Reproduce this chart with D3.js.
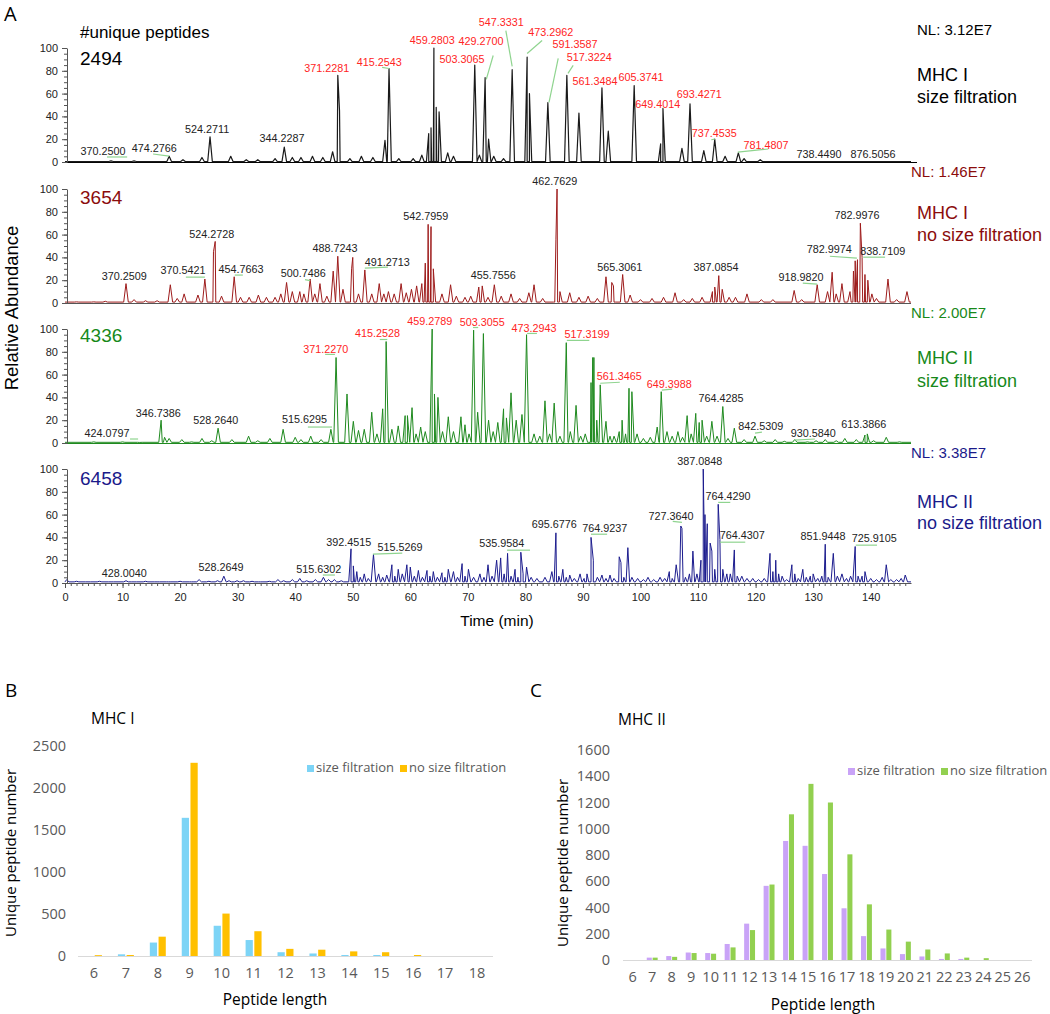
<!DOCTYPE html>
<html><head><meta charset="utf-8">
<script src="https://cdn.jsdelivr.net/npm/d3@7"></script>
<style>body{margin:0;background:#fff}svg{display:block}</style>
</head><body>
<svg id="c" width="1050" height="1014"></svg>
<script>
// ---------------- DATA ----------------
// Chromatogram peaks: [time (min), relative abundance]
const peaksMHCI_sf = [[8,1],[12,1],[18.1,5],[20.5,2],[23.8,4],[25.2,22],[28.8,5],[31.5,2],[33.5,2],[36.5,3],[38.1,13],[39.5,4],[41,4],[43,5],[44.8,4],[46.5,9],[47.4,76],[47.7,45],[49.5,3],[51.5,5],[53.5,4],[55.6,19],[56.3,82],[58,3],[60.5,3],[62,6],[63.2,25],[63.6,30],[64.1,100],[64.5,48],[65,44],[66.5,8],[67.5,5],[71.2,85],[72,6],[73,74],[73.6,20],[74.5,5],[76.2,3],[77.7,81],[80.3,92],[80.7,60],[83.9,52],[87.2,76],[89.3,43],[93.3,65],[94.4,27],[98.9,67],[103.5,16],[103.9,47],[107.2,12],[108.6,51],[111,10],[112.9,20],[114.7,5],[117,8],[118,3],[120.8,2]];
const peaksMHCI_nsf = [[2,1],[5,1],[7,1.5],[10.6,17],[12,3],[14,2],[16,2],[18.3,16],[19.5,4],[20.7,8],[23.1,7],[24.3,21],[25.8,45],[26.1,54],[27.2,6],[29.4,23],[30.5,5],[32,5],[33.6,7],[35,5],[36.5,5],[37.5,8],[38.5,18],[39.5,10],[40.8,10],[41.5,8],[42.6,21],[43.4,8],[44.3,17],[45.5,6],[46.6,28],[47.4,41],[48.3,12],[49.8,30],[50,40],[51,8],[52.1,29],[53.3,8],[54.6,17],[55.4,8],[56.2,10],[57.2,8],[58.4,17],[59.3,9],[60.2,12],[61.1,15],[62,17],[62.6,35],[63.1,69],[63.6,67],[64,30],[65.5,8],[67,16],[68,6],[69.5,5],[70.5,6],[71.9,14],[72.5,15],[73.5,5],[74.6,16],[75.8,6],[77.5,8],[79,4],[80.6,9],[81.5,16],[83,4],[85.3,56],[85.5,100],[86,10],[87.7,9],[89.3,5],[90.9,6],[92.5,4],[94,23],[95,18],[95.3,15],[96.9,25],[98.2,7],[100,3],[102,4],[104,5],[106,9],[107.5,3],[109,4],[110.7,5],[112.5,10],[112.9,14],[113.6,24],[114.2,12],[115.4,5],[116.5,5],[118.5,8],[121,3],[123,3],[126.7,11],[128,3],[130.7,16],[132.5,10],[133.3,27],[134,8],[135,17],[136.4,10],[137,28],[137.3,37],[137.7,38],[138.2,70],[138.5,40],[139,25],[139.5,20],[140.2,8],[141,4],[143,21],[144.5,3],[146.3,10]];
const peaksMHCII_sf = [[5,1],[10,1],[13,0.5],[16.7,20],[17.3,5],[18.1,4],[20.3,3],[22,1],[23.8,4],[25.5,2],[26.6,13],[29,3],[31.9,6],[33.5,2],[35.6,4],[37.9,12],[40,5],[41,3],[42.7,6],[44.5,3],[46.2,12],[47.1,75],[49,43],[50.1,19],[51,11],[52,12],[53.3,27],[54.2,8],[55.2,30],[55.8,89],[56.8,12],[57.9,15],[59.1,24],[59.5,24],[60.3,31],[61,8],[61.8,14],[62.6,10],[63.8,100],[64.2,43],[64.8,40],[65.6,10],[66.6,23],[67.5,10],[68.8,23],[69.5,16],[70.2,8],[71,99],[71.7,27],[72.7,96],[73.6,20],[74.4,10],[75.2,18],[76.2,30],[76.7,22],[77.5,44],[78.4,20],[79.4,25],[80.2,95],[81.5,8],[82.5,6],[83.4,37],[84.2,8],[85,35],[86,6],[87.1,88],[87.8,10],[88.8,33],[89.6,6],[90.4,8],[91.4,53],[91.7,75],[91.9,75],[92.4,20],[93,51],[94,19],[94.7,6],[95.4,6],[96.3,10],[96.8,20],[97.4,8],[98,48],[98.5,45],[99.4,8],[100.5,4],[101.7,5],[102.9,14],[103.6,45],[104.6,10],[105.5,6],[106.5,10],[107.3,5],[108.1,24],[108.8,8],[109.6,26],[110.2,18],[110.7,20],[111.5,6],[112.4,19],[113.3,6],[114.3,32],[115.2,4],[116.3,13],[118,3],[119.9,6],[121.5,2],[123.4,3],[125,1.5],[126.8,3],[129,1],[130.5,2],[132.1,3],[134,2],[135.5,4],[137.5,3],[139,7],[139.4,8],[140.5,2],[142.7,5],[145,1]];
const peaksMHCII_nsf = [[0.3,3],[2,1.5],[4,1],[6,1.5],[8,1],[10.6,2],[12,1],[14,1.5],[16,1],[18,1],[20,1.5],[22,1],[23.3,3],[25,1.5],[26.5,2],[27.6,6],[28.5,2],[29.9,2],[31,2],[32.5,1.5],[34,1],[35.5,1.5],[37,3],[38,2],[39.5,3],[40.8,4],[42,2],[43.5,3],[44.9,5],[45.8,3],[46.8,3],[48,2],[49.7,30],[50.1,15],[50.7,10],[51.3,5],[52,8],[52.7,4],[53.6,25],[54.5,8],[55.2,5],[55.9,7],[56.8,16],[57.3,6],[57.9,12],[58.6,8],[59.4,16],[60,14],[60.7,6],[61.4,11],[62.1,5],[62.9,11],[63.4,6],[64,10],[64.7,5],[65.5,9],[66,5],[66.6,12],[67.5,10],[68.2,5],[69,17],[69.5,6],[70.1,12],[71,5],[72.1,8],[72.8,5],[73.5,16],[74.2,6],[75,20],[75.7,22],[76.3,8],[76.9,26],[77.5,6],[78.2,12],[78.7,5],[79.2,27],[79.6,8],[80.2,14],[81,5],[82,4],[83.4,5],[84.6,10],[85.3,44],[85.8,6],[86.5,12],[87.1,5],[87.7,7],[88.5,4],[89.5,8],[90.2,4],[90.7,8],[91.4,40],[91.8,20],[92.5,5],[93.3,7],[94,4],[94.7,7],[95.4,4],[96.3,23],[96.6,18],[97.1,5],[97.8,31],[98.5,5],[99.5,4],[100.5,3],[101.3,5],[102.3,3],[103.4,5],[104.2,4],[105,10],[105.5,4],[106.2,16],[107,50],[107.2,48],[107.8,5],[108.5,8],[109.1,28],[109.8,8],[110.5,20],[110.9,100],[111.2,60],[111.6,52],[112.1,35],[112.4,28],[112.9,12],[113.5,69],[113.8,38],[114.3,12],[115,8],[115.6,8],[116.3,29],[116.8,6],[117.6,6],[118.5,4],[119.5,4],[120.5,3],[121.5,4],[122.5,26],[123,10],[123.5,20],[124,8],[124.6,6],[125.4,3],[126.3,16],[126.8,8],[127.4,4],[128.2,12],[128.8,5],[129.5,6],[130,8],[130.8,4],[131.5,6],[132.1,34],[132.6,5],[133.5,26],[134.2,6],[135,8],[135.8,4],[136.5,6],[137.3,32],[137.8,6],[138.5,6],[139,10],[140,4],[141,3],[142,5],[142.7,16],[143.5,3],[144.5,3],[145.3,4],[146,7]];

// Peak annotations: [m/z text, time, abundance, red?]
const labelsMHCI_sf = [["370.2500",6.6,6.1,0],["474.2766",15.5,8.7,0],["524.2711",24.7,25.3,0],["344.2287",37.7,17.5,0],["371.2281",45.5,78.6,1],["415.2543",54.6,83.8,1],["459.2803",63.8,103.9,1],["503.3065",69.0,86.5,1],["429.2700",72.3,102.2,1],["547.3331",75.8,119.7,1],["473.2962",84.4,110.9,1],["591.3587",88.6,99.6,1],["517.3224",91.1,88.2,1],["561.3484",92.1,67.2,1],["605.3741",100.1,70.7,1],["649.4014",103.0,47.2,1],["693.4271",110.2,55.9,1],["737.4535",112.8,21.8,1],["781.4807",121.8,11.4,1],["738.4490",131.0,3.5,0],["876.5056",140.4,3.5,0]];
const labelsMHCI_nsf = [["370.2509",10.3,20.1,0],["370.5421",20.5,25.3,0],["524.2728",25.5,56.8,0],["454.7663",30.6,26.2,0],["500.7486",41.4,22.7,0],["488.7243",46.9,44.5,0],["491.2713",56.0,32.3,0],["542.7959",62.7,72.5,0],["455.7556",74.4,21.0,0],["462.7629",85.1,103.9,0],["565.3061",96.4,27.9,0],["387.0854",113.1,27.9,0],["918.9820",127.9,19.2,0],["782.9974",132.8,43.7,0],["782.9976",137.6,73.4,0],["838.7109",142.1,41.9,0]];
const labelsMHCII_sf = [["424.0797",7.3,5.2,0],["346.7386",16.2,22.7,0],["528.2640",26.2,16.6,0],["515.6295",41.6,17.5,0],["371.2270",45.3,78.6,1],["415.2528",54.3,92.6,1],["459.2789",63.4,103.9,1],["503.3055",72.5,102.2,1],["473.2943",81.5,97.8,1],["517.3199",90.7,91.7,1],["561.3465",96.3,55.0,1],["649.3988",105.0,48.0,1],["764.4285",114.0,35.8,0],["842.5309",120.9,11.4,0],["930.5840",130.0,5.2,0],["613.3866",138.8,13.1,0]];
const labelsMHCII_nsf = [["428.0040",10.3,5.2,0],["528.2649",27.1,10.5,0],["515.6302",44.1,8.7,0],["392.4515",49.3,32.3,0],["515.5269",58.2,27.9,0],["535.9584",75.9,31.4,0],["695.6776",85.0,48.0,0],["764.9237",93.8,44.5,0],["727.3640",105.3,55.0,0],["387.0848",110.3,103.9,0],["764.4290",115.2,72.5,0],["764.4307",117.7,38.4,0],["851.9448",131.7,37.6,0],["725.9105",140.6,35.8,0]];

// Leader lines: [t1, v1, t2, v2]
const leadersMHCI_sf = [[7.3,4.4,10.8,4.4],[15.3,7.0,18.1,5.2],[55.1,83,56.3,82],[74.4,93.4,73.2,72.5],[76.6,115.3,77.7,83.8],[82.9,106.6,80.3,95.2],[85.7,90.8,84.1,52.4],[88.3,84.7,87.4,77.7],[112.3,19.5,112.9,20],[116.9,8.7,122.2,11.4]];
const leadersMHCI_nsf = [[21.0,22.7,24.3,22.7],[29.5,24.5,30.9,24.5],[41.7,20.5,42.6,19.7],[52.1,30.6,56.1,31.4],[128.2,17.5,130.7,16.6],[132.9,41,137.6,39.3],[138.7,40.2,142.5,40.2]];
const leadersMHCII_sf = [[11.3,3.5,12.7,3.5],[42.2,14.0,46.4,14.0],[45.2,77.7,46.9,77.7],[54.7,90.8,56.0,90.8],[70.9,101.3,71.8,101.3],[80.3,96.1,82.0,96.1],[87.2,90.0,91.1,90.0],[93.0,52.4,96.4,53.3],[103.7,46.3,105.5,47.2],[119.9,8.7,121.1,9.6],[126.8,2.6,130.3,3.5]];
const leadersMHCII_nsf = [[44.8,7.0,46.9,7.0],[53.5,25.3,58.6,26.2],[76.8,28.8,80.8,28.8],[91.4,42.8,94.2,42.8],[105.6,54,107.2,53.2],[113.5,70.7,115.6,70.7],[113.8,35.8,118.2,35.8],[137.4,33.2,141.1,33.2]];

const uniqueCounts = ["2494","3654","4336","6458"];
const nlValues = ["NL: 3.12E7","NL: 1.46E7","NL: 2.00E7","NL: 3.38E7"];
const sampleNames = [["MHC I","size filtration"],["MHC I","no size filtration"],["MHC II","size filtration"],["MHC II","no size filtration"]];
const abundanceTicks = [0,20,40,60,80,100];
const timeTicks = [0,10,20,30,40,50,60,70,80,90,100,110,120,130,140];

// Bar charts
const lengthsMHCI = [6,7,8,9,10,11,12,13,14,15,16,17,18];
const mhcI_sizeFilt = [0,20,160,1645,360,190,45,30,12,12,0,0,0];
const mhcI_noSizeFilt = [10,12,230,2300,505,295,85,75,55,45,12,0,0];
const mhcITicks = [0,500,1000,1500,2000,2500];

const lengthsMHCII = [6,7,8,9,10,11,12,13,14,15,16,17,18,19,20,21,22,23,24,25,26];
const mhcII_sizeFilt = [0,18,30,57,53,122,277,565,907,870,655,394,182,88,45,27,8,8,0,0,0];
const mhcII_noSizeFilt = [0,18,24,53,48,96,228,575,1110,1342,1200,805,424,232,140,80,50,18,14,0,0];
const mhcIITicks = [0,200,400,600,800,1000,1200,1400,1600];

// ---------------- DRAW ----------------
const svg = d3.select("#c");
const ARIAL = "'Liberation Sans', Arial, sans-serif";
const SEGOE = "'Open Sans', 'Noto Sans', sans-serif";

const x = d3.scaleLinear().domain([0,147]).range([65,911]);

const panels = [
  {peaks:peaksMHCI_sf, labels:labelsMHCI_sf, leaders:leadersMHCI_sf, y0:162, color:"#1a1a1a", tcolor:"#000", axis:"#000", nlx:917, nly:35, n1:81, n2:103, cy:65, base:0.4, sw:1.2},
  {peaks:peaksMHCI_nsf, labels:labelsMHCI_nsf, leaders:leadersMHCI_nsf, y0:303, color:"#9e1c1c", tcolor:"#8b0c0c", axis:"#555", nlx:911, nly:177, n1:219, n2:241, cy:204, base:0.8, sw:1},
  {peaks:peaksMHCII_sf, labels:labelsMHCII_sf, leaders:leadersMHCII_sf, y0:443, color:"#1f8a1f", tcolor:"#17891a", axis:"#1f8a1f", nlx:911, nly:318, n1:364, n2:387, cy:342, base:0.6, sw:1},
  {peaks:peaksMHCII_nsf, labels:labelsMHCII_nsf, leaders:leadersMHCII_nsf, y0:583, color:"#1c1c8e", tcolor:"#1a1a8a", axis:"#555", nlx:911, nly:458, n1:508, n2:529, cy:485, base:1, sw:1}
];

svg.append("text").attr("x",4).attr("y",21).attr("font-family",SEGOE).attr("font-size",20).text("A");

panels.forEach((p,i)=>{
  const y = d3.scaleLinear().domain([0,100]).range([p.y0, p.y0-114]);
  const g = svg.append("g");
  // trace
  const hw = 0.4;
  const pts = [[0,p.base]];
  p.peaks.forEach(([t,v])=>{ pts.push([t-hw,p.base],[t,v],[t+hw,p.base]); });
  pts.push([147,p.base]);
  pts.sort((a,b)=>a[0]-b[0]);
  const line = d3.line().x(d=>x(Math.max(0,d[0]))).y(d=>y(d[1]));
  // x baseline / axis
  if(i<3){
    g.append("line").attr("x1",x(0)).attr("x2",x(147)+(i==0?6:0)).attr("y1",p.y0+0.5).attr("y2",p.y0+0.5)
      .attr("stroke",p.axis).attr("stroke-width",1.2);
  } else {
    const minor = g.append("g").attr("transform",`translate(0,${p.y0})`)
      .call(d3.axisBottom(x).tickValues(d3.range(0,147,1)).tickSize(3).tickSizeOuter(0).tickFormat(""));
    minor.select(".domain").attr("stroke","#555");
    minor.selectAll(".tick line").attr("stroke","#555");
    const major = g.append("g").attr("transform",`translate(0,${p.y0})`)
      .call(d3.axisBottom(x).tickValues(timeTicks).tickSize(5).tickSizeOuter(0));
    major.select(".domain").remove();
    major.selectAll(".tick line").attr("stroke","#555");
    major.selectAll("text").attr("font-family",ARIAL).attr("font-size",11).attr("fill","#222").attr("dy","0.9em");
  }
  g.append("path").attr("d",line(pts)).attr("fill","none").attr("stroke",p.color).attr("stroke-width",p.sw).attr("stroke-linejoin","round");
  // y axis
  const ya = g.append("g").attr("transform","translate(67,0)")
    .call(d3.axisLeft(y).tickValues(d3.range(0,101,5)).tickSize(3).tickSizeOuter(0).tickFormat(""));
  ya.select(".domain").attr("stroke","#555");
  ya.selectAll(".tick line").attr("stroke","#555");
  const yb = g.append("g").attr("transform","translate(67,0)")
    .call(d3.axisLeft(y).tickValues(abundanceTicks).tickSize(5).tickSizeOuter(0));
  yb.select(".domain").remove();
  yb.selectAll(".tick line").attr("stroke","#555");
  yb.selectAll("text").attr("font-family",ARIAL).attr("font-size",11).attr("fill","#222").attr("x",-9);
  // leaders
  g.selectAll(".ld").data(p.leaders).join("line")
    .attr("x1",d=>x(d[0])).attr("y1",d=>y(d[1])).attr("x2",d=>x(d[2])).attr("y2",d=>y(d[3]))
    .attr("stroke","#8fd48f").attr("stroke-width",1.2);
  // labels
  g.selectAll(".lb").data(p.labels).join("text")
    .attr("x",d=>x(d[1])).attr("y",d=>y(d[2])).attr("text-anchor","middle")
    .attr("font-family",ARIAL).attr("font-size",10.8)
    .attr("fill",d=>d[3]?"#ff2424":"#222").text(d=>d[0]);
  // count
  g.append("text").attr("x",80).attr("y",p.cy).attr("font-family",ARIAL).attr("font-size",19)
    .attr("fill",p.tcolor).text(uniqueCounts[i]);
  // NL + sample name
  g.append("text").attr("x",p.nlx).attr("y",p.nly).attr("font-family",ARIAL).attr("font-size",15)
    .attr("fill",p.tcolor).text(nlValues[i]);
  g.append("text").attr("x",917).attr("y",p.n1).attr("font-family",ARIAL).attr("font-size",18)
    .attr("fill",p.tcolor).text(sampleNames[i][0]);
  g.append("text").attr("x",917).attr("y",p.n2).attr("font-family",ARIAL).attr("font-size",18)
    .attr("fill",p.tcolor).text(sampleNames[i][1]);
});
svg.append("text").attr("x",80).attr("y",38).attr("font-family",ARIAL).attr("font-size",17).text("#unique peptides");
svg.append("text").attr("transform","translate(18,308) rotate(-90)").attr("text-anchor","middle")
  .attr("font-family",ARIAL).attr("font-size",18.5).attr("fill","#000").text("Relative Abundance");
svg.append("text").attr("x",497).attr("y",626).attr("text-anchor","middle")
  .attr("font-family",ARIAL).attr("font-size",15.5).attr("fill","#000").text("Time (min)");

// ---------------- BAR CHARTS ----------------
function barChart(o){
  const g = svg.append("g");
  const xb = d3.scaleBand().domain(o.cats).range([o.x0,o.x1]).paddingInner(o.pad).paddingOuter(o.pad/2);
  const yb = d3.scaleLinear().domain([0,o.max]).range([o.y0,o.y1]);
  const bw = xb.bandwidth();
  const gap = o.gap;
  const w = (bw-gap)/2;
  g.append("line").attr("x1",o.x0).attr("x2",o.x1).attr("y1",o.y0+0.5).attr("y2",o.y0+0.5).attr("stroke","#d9d9d9").attr("stroke-width",1);
  [o.s1,o.s2].forEach((s,k)=>{
    g.selectAll(".b"+k).data(o.cats).join("rect")
      .attr("x",(d)=>xb(d)+k*(w+gap)).attr("width",w)
      .attr("y",(d,j)=>yb(s[j])).attr("height",(d,j)=>o.y0-yb(s[j]))
      .attr("fill",o.colors[k]);
  });
  const ya = g.append("g").attr("transform",`translate(${o.x0},0)`)
    .call(d3.axisLeft(yb).tickValues(o.ticks).tickFormat(d3.format("d")).tickSize(0).tickPadding(o.tpad));
  ya.select(".domain").remove();
  ya.selectAll("text").attr("font-family",SEGOE).attr("font-size",14.5).attr("fill","#595959");
  const xa = g.append("g").attr("transform",`translate(0,${o.y0})`).call(d3.axisBottom(xb).tickSize(0).tickPadding(12));
  xa.select(".domain").remove();
  xa.selectAll("text").attr("font-family",SEGOE).attr("font-size",14.5).attr("fill","#595959");
  g.append("text").attr("x",o.titleX).attr("y",o.titleY).attr("font-family",SEGOE).attr("font-size",15.5).attr("fill","#000").text(o.title);
  g.append("text").attr("x",o.xlabX).attr("y",o.xlabY).attr("text-anchor","middle").attr("font-family",SEGOE).attr("font-size",15.5).attr("fill","#000").text("Peptide length");
  g.append("text").attr("transform",`translate(${o.ylabX},${o.ylabY}) rotate(-90)`).attr("text-anchor","middle").attr("font-family",SEGOE).attr("font-size",15).attr("fill","#000").text("Unique peptide number");
  o.legend.forEach((l,k)=>{
    g.append("rect").attr("x",l[0]).attr("y",o.legY-7).attr("width",7).attr("height",7).attr("fill",o.colors[k]);
    g.append("text").attr("x",l[0]+9).attr("y",o.legY).attr("font-family",SEGOE).attr("font-size",13).attr("fill","#595959").text(l[1]);
  });
  svg.append("text").attr("x",o.letterX).attr("y",697).attr("font-family",SEGOE).attr("font-size",19).text(o.letter);
}
barChart({cats:lengthsMHCI, s1:mhcI_sizeFilt, s2:mhcI_noSizeFilt, max:2500, ticks:mhcITicks,
  x0:78,x1:493,y0:956,y1:746,pad:0.5,gap:1.5,tpad:12,colors:["#7dd4f6","#ffc000"],
  title:"MHC I",titleX:91,titleY:724,xlabX:275,xlabY:1005,ylabX:16,ylabY:853,
  legY:772,legend:[[307,"size filtration"],[400,"no size filtration"]],letter:"B",letterX:5});
barChart({cats:lengthsMHCII, s1:mhcII_sizeFilt, s2:mhcII_noSizeFilt, max:1600, ticks:mhcIITicks,
  x0:623,x1:1032,y0:960,y1:750,pad:0.44,gap:0.8,tpad:13,colors:["#c9a3f7","#92d050"],
  title:"MHC II",titleX:618,titleY:725,xlabX:823,xlabY:1010,ylabX:568,ylabY:863,
  legY:775,legend:[[848,"size filtration"],[941,"no size filtration"]],letter:"C",letterX:530});
</script>
</body></html>
